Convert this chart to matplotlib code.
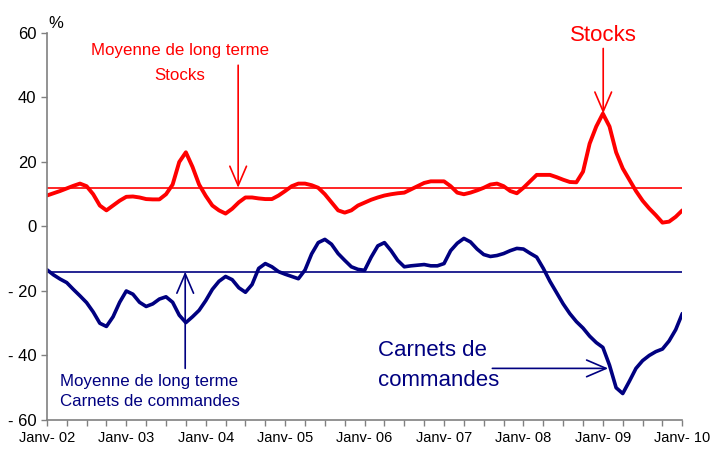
import matplotlib
matplotlib.use("Agg")
import matplotlib.pyplot as plt
import numpy as np

# monthly series, Janv-02 .. Janv-10 (97 points)
stocks = [
    9.6, 10.3, 11.0, 11.8, 12.6, 13.3, 12.5, 10.0, 6.5, 5.0, 6.5, 8.0,
    9.2, 9.3, 9.0, 8.5, 8.4, 8.4, 10.0, 13.0, 20.0, 23.0, 18.5, 13.0,
    9.5, 6.5, 5.0, 4.0, 5.5, 7.5, 9.0, 9.0, 8.7, 8.5, 8.5, 9.6,
    11.0, 12.5, 13.3, 13.3, 12.8, 12.0, 10.0, 7.5, 5.0, 4.3, 5.0, 6.5,
    7.4, 8.3, 9.0, 9.6, 10.0, 10.3, 10.5, 11.5, 12.5, 13.5, 14.0, 14.0,
    14.0, 12.5, 10.5, 10.0, 10.5, 11.2, 12.0, 13.0, 13.3, 12.5, 11.0, 10.3,
    12.0, 14.0, 16.0, 16.0, 16.0, 15.3, 14.5, 13.8, 13.7, 17.0, 25.7, 31.0,
    35.0, 31.0, 23.0, 18.0, 14.5, 11.0, 8.0, 5.6, 3.5, 1.2, 1.5, 3.0,
    5.0,
]
carnets = [
    -13.4, -15.0, -16.3, -17.4, -19.5, -21.5, -23.6, -26.5, -30.0, -31.0, -28.0, -23.5,
    -20.0, -21.0, -23.5, -24.8, -24.0, -22.5, -21.8, -23.5, -27.5, -29.8, -28.0, -26.0,
    -23.0, -19.5, -17.0, -15.5, -16.5, -19.0, -20.4, -18.0, -13.0, -11.5, -12.5, -14.0,
    -14.8, -15.5, -16.2, -13.5, -8.5, -5.0, -4.0, -5.5, -8.4, -10.5, -12.5, -13.3,
    -13.6, -9.5, -6.0, -5.0, -7.5, -10.5, -12.5, -12.2, -12.0, -11.8, -12.2, -12.2,
    -11.5, -7.5, -5.2, -3.7, -4.8, -7.0, -8.7, -9.3, -9.0, -8.4, -7.5, -6.8,
    -7.0, -8.3, -9.5, -13.0, -17.0, -20.5, -24.0, -27.0, -29.5, -31.5, -34.0, -36.0,
    -37.5, -43.0, -50.0, -51.8, -48.0, -44.0, -41.6, -40.0, -38.8, -38.0, -35.5, -32.0,
    -27.0,
]
mean_stocks = 12
mean_carnets = -14
year_labels = ["Janv- 02", "Janv- 03", "Janv- 04", "Janv- 05", "Janv- 06",
               "Janv- 07", "Janv- 08", "Janv- 09", "Janv- 10"]

RED = "#ff0000"
NAVY = "#000080"
plt.rcParams["font.family"] = ["Liberation Sans", "DejaVu Sans"]

fig = plt.figure(figsize=(7.1, 4.5), dpi=100)
ax = fig.add_axes([0.066, 0.0667, 0.895, 0.86])

months = np.arange(len(stocks))
ax.plot(months, stocks, color=RED, lw=2.8, solid_capstyle="round",
        solid_joinstyle="round")
ax.plot(months, carnets, color=NAVY, lw=2.6, solid_capstyle="round",
        solid_joinstyle="round")
ax.axhline(mean_stocks, color=RED, lw=1.2)
ax.axhline(mean_carnets, color=NAVY, lw=1.2)

ax.set_xlim(0, len(stocks) - 1)
ax.set_ylim(-60, 60)
ax.set_yticks(range(-60, 61, 20))
ax.set_yticklabels([str(v) if v >= 0 else "- %d" % -v for v in range(-60, 61, 20)],
                   fontsize=12)
ax.set_xticks(np.arange(0, len(stocks), 12))
ax.set_xticklabels(year_labels, fontsize=10.5)
ax.set_xticks(np.arange(0, len(stocks), 3), minor=True)
ax.tick_params(axis="both", which="both", direction="out", length=4,
               color="#808080", width=1)
ax.tick_params(axis="x", pad=4)
for s in ("top", "right"):
    ax.spines[s].set_visible(False)
for s in ("left", "bottom"):
    ax.spines[s].set_color("#808080")
    ax.spines[s].set_linewidth(1.2)

ax.text(1.3, 63.0, "%", fontsize=12, ha="center", va="center", clip_on=False)

arrow = dict(arrowstyle="->, head_length=14, head_width=6", lw=1.2,
             shrinkA=0, shrinkB=0, mutation_scale=1)

# stocks mean annotation
ax.text(20.1, 54.6, "Moyenne de long terme", color=RED, fontsize=12.2,
        ha="center", va="center")
ax.text(20.1, 46.8, "Stocks", color=RED, fontsize=12.2, ha="center", va="center")
ax.annotate("", xy=(28.9, mean_stocks), xytext=(28.9, 50),
            arrowprops=dict(arrow, color=RED))

# stocks series label
ax.text(84.05, 59.2, "Stocks", color=RED, fontsize=16, ha="center", va="center")
ax.annotate("", xy=(84.05, 35), xytext=(84.05, 55.2),
            arrowprops=dict(arrow, color=RED))

# carnets mean annotation
ax.annotate("", xy=(20.9, mean_carnets), xytext=(20.9, -44),
            arrowprops=dict(arrow, color=NAVY))
ax.text(2.0, -48.1, "Moyenne de long terme", color=NAVY, fontsize=12.2,
        ha="left", va="center")
ax.text(2.0, -54.3, "Carnets de commandes", color=NAVY, fontsize=12.2,
        ha="left", va="center")

# carnets series label
ax.text(50, -38.4, "Carnets de", color=NAVY, fontsize=16, ha="left", va="center")
ax.text(50, -47.8, "commandes", color=NAVY, fontsize=16, ha="left", va="center")
ax.annotate("", xy=(84.8, -44), xytext=(67.3, -44),
            arrowprops=dict(arrow, color=NAVY))

fig.savefig("out.png", dpi=100)
